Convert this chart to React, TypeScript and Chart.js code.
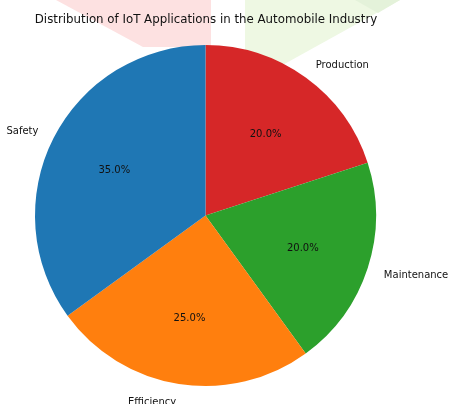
import React, { useEffect, useRef } from "react";
import { Chart, registerables } from "chart.js";

Chart.register(...registerables);

const TITLE = "Distribution of IoT Applications in the Automobile Industry";
const CATEGORIES = ["Safety", "Efficiency", "Maintenance", "Production"];
const SHARES = [35, 25, 20, 20];
const COLORS = ["#1f77b4", "#ff7f0e", "#2ca02c", "#d62728"];

const FONT = "'DejaVu Sans', 'Liberation Sans', sans-serif";

const backgroundPlugin = {
  id: "bgDecor",
  beforeDraw(chart: any) {
    const ctx = chart.ctx;
    ctx.save();
    ctx.fillStyle = "#ffffff";
    ctx.fillRect(0, 0, chart.width, chart.height);
    // faded decorative wedges behind the title
    ctx.fillStyle = "#fde1e1";
    ctx.beginPath();
    ctx.moveTo(56, 0);
    ctx.lineTo(211, 0);
    ctx.lineTo(211, 47);
    ctx.lineTo(143, 47);
    ctx.closePath();
    ctx.fill();
    ctx.fillStyle = "#eef8e3";
    ctx.beginPath();
    ctx.moveTo(245, 0);
    ctx.lineTo(400, 0);
    ctx.lineTo(270, 72);
    ctx.lineTo(245, 72);
    ctx.closePath();
    ctx.fill();
    ctx.fillStyle = "#e4f2da";
    ctx.beginPath();
    ctx.moveTo(355, 0);
    ctx.lineTo(400, 0);
    ctx.lineTo(378, 13);
    ctx.closePath();
    ctx.fill();
    ctx.restore();
  },
};

const labelPlugin = {
  id: "pieLabels",
  afterDatasetsDraw(chart: any) {
    const ctx = chart.ctx;
    const meta = chart.getDatasetMeta(0);
    const data = chart.data.datasets[0].data as number[];
    const labels = chart.data.labels as string[];
    const total = data.reduce((a, b) => a + b, 0);
    ctx.save();
    ctx.fillStyle = "#111111";
    ctx.textBaseline = "middle";
    meta.data.forEach((arc: any, i: number) => {
      const { x, y, startAngle, endAngle, outerRadius } = arc.getProps(
        ["x", "y", "startAngle", "endAngle", "outerRadius"],
        true
      );
      const mid = (startAngle + endAngle) / 2;
      const c = Math.cos(mid);
      const s = Math.sin(mid);
      ctx.font = `10px ${FONT}`;
      ctx.textAlign = "center";
      const pct = ((data[i] / total) * 100).toFixed(1) + "%";
      ctx.fillText(pct, x + 0.6 * outerRadius * c, y + 0.6 * outerRadius * s + 1.5);
      ctx.textAlign = c > 0 ? "left" : "right";
      ctx.fillText(labels[i], x + 1.1 * outerRadius * c, y + 1.1 * outerRadius * s + 1.5);
    });
    // title
    ctx.font = `11.8px ${FONT}`;
    ctx.textAlign = "center";
    ctx.fillStyle = "#111111";
    const area = chart.chartArea;
    ctx.fillText(TITLE, (area.left + area.right) / 2 + 0.5, 19.5);
    ctx.restore();
  },
};

export default function App() {
  const ref = useRef<HTMLCanvasElement>(null);
  useEffect(() => {
    document.body.style.margin = "0";
    if (!ref.current) return;
    // Chart.js draws clockwise; reverse to match the counter-clockwise source layout
    const labels = [...CATEGORIES].reverse();
    const values = [...SHARES].reverse();
    const colors = [...COLORS].reverse();
    const chart = new Chart(ref.current, {
      type: "pie",
      data: {
        labels,
        datasets: [
          {
            data: values,
            backgroundColor: colors,
            borderWidth: 0,
            hoverOffset: 0,
          },
        ],
      },
      options: {
        responsive: false,
        maintainAspectRatio: false,
        animation: false,
        rotation: 0,
        layout: { padding: { left: 35, right: 73, top: 45, bottom: 18 } },
        plugins: {
          legend: { display: false },
          title: { display: false },
          tooltip: { enabled: false },
        },
      },
      plugins: [backgroundPlugin, labelPlugin],
    } as any);
    return () => chart.destroy();
  }, []);
  return (
    <div style={{ position: "absolute", left: 0, top: 0, width: 449, height: 404 }}>
      <canvas ref={ref} width={449} height={404} style={{ display: "block" }} />
    </div>
  );
}
